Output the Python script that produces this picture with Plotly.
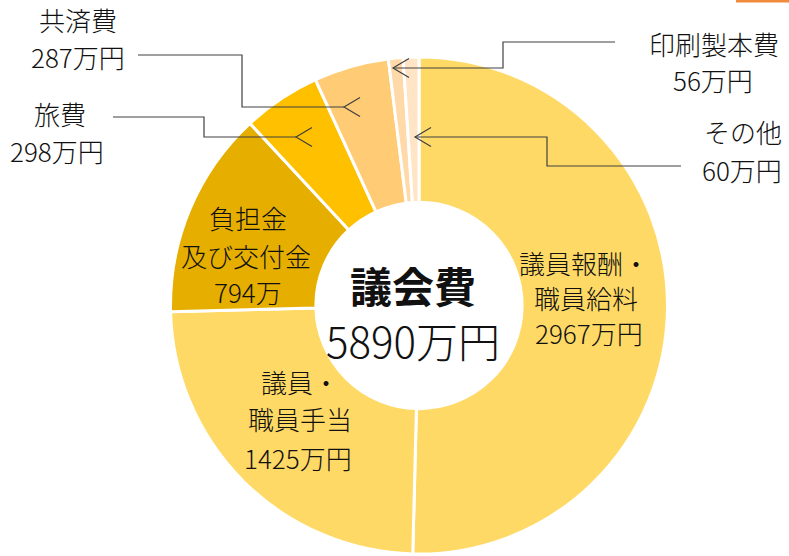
import plotly.graph_objects as go

W, H = 789, 556

# ---- data ----
categories = ["議員報酬・職員給料", "議員・職員手当", "負担金及び交付金", "旅費", "共済費", "印刷製本費", "その他"]
values = [2967, 1425, 794, 298, 287, 56, 60]
colors = ["#FFD966", "#FFD966", "#E6AF00", "#FFC000", "#FFCB74", "#FFD9A8", "#FFE4C6"]
total_label = "5890万円"
title_label = "議会費"


def px(x, y):
    return x / W, 1 - y / H


cx, cy, R = 419, 305.5, 248.5
dx0, dy0 = px(cx - R, cy + R)
dx1, dy1 = px(cx + R, cy - R)

fig = go.Figure(go.Pie(
    labels=categories,
    values=values,
    sort=False,
    direction="clockwise",
    rotation=0,
    hole=0.415,
    marker=dict(colors=colors, line=dict(color="white", width=3)),
    textinfo="none",
    hoverinfo="label+value",
    showlegend=False,
    domain=dict(x=[dx0, dx1], y=[dy0, dy1]),
))

FONT = "Noto Sans CJK JP"
annots = []


def label(x, y, text, size=26, weight=300):
    ax, ay = px(x, y)
    annots.append(dict(
        x=ax, y=ay, xref="paper", yref="paper", text=text,
        showarrow=False, xanchor="center", yanchor="middle",
        font=dict(family=FONT, size=size, color="#111111", weight=weight),
    ))


# outside labels
label(78, 19, "共済費")
label(78, 56, "287万円")
label(60, 113, "旅費")
label(57, 150, "298万円")
label(714, 44, "印刷製本費")
label(713, 79, "56万円")
label(743, 132, "その他")
label(742, 169, "60万円")
# inside labels
label(584, 262, "議員報酬・")
label(586, 297, "職員給料")
label(589, 332, "2967万円")
label(300, 382, "議員・")
label(300, 418, "職員手当")
label(298, 457, "1425万円")
label(248, 217, "負担金")
label(246, 255, "及び交付金")
label(248, 291, "794万")
# centre (one text block, two lines)
label(413, 312, "<b>%s</b><br>%s" % (title_label, total_label), size=42, weight=300)

shapes = []


def path_of(points):
    d = ""
    for i, (x, y) in enumerate(points):
        X, Y = px(x, y)
        d += ("M" if i == 0 else " L") + " %f %f" % (X, Y)
    return d


def leader(points):
    shapes.append(dict(type="path", path=path_of(points), xref="paper", yref="paper",
                       line=dict(color="#404040", width=1.2)))
    tx, ty = points[-1]
    shapes.append(dict(type="path", path=path_of([(tx + 16, ty - 9.5), (tx, ty), (tx + 16, ty + 9.5)]),
                       xref="paper", yref="paper", line=dict(color="#404040", width=1.2)))


leader([(615, 42), (503, 42), (503, 68), (393, 68)])
leader([(681, 166), (547, 166), (547, 137), (415, 137)])
leader([(138, 55), (242, 55), (242, 107), (344, 107)])
leader([(113, 117), (204, 117), (204, 137), (296, 137)])

# orange accent at top right
x0, y0 = px(736, 0)
x1, y1 = px(789, 2.5)
shapes.append(dict(type="rect", x0=x0, y0=y1, x1=x1, y1=y0, xref="paper", yref="paper",
                   fillcolor="#F08A3C", line=dict(width=0)))

fig.update_layout(
    width=W, height=H,
    margin=dict(l=0, r=0, t=0, b=0),
    paper_bgcolor="white", plot_bgcolor="white",
    annotations=annots, shapes=shapes,
)

fig.write_html("out.html", config={"displayModeBar": False},
               post_script="document.body.style.margin='0';document.body.style.overflow='hidden';")
